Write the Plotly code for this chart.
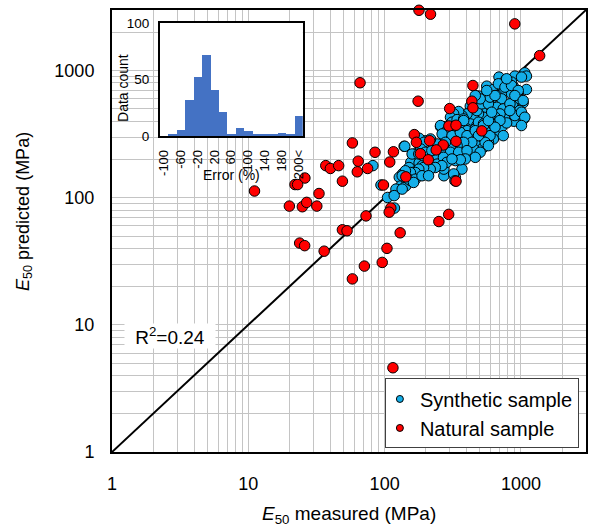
import plotly.graph_objects as go

# ---------------- data ----------------
syn_x = [690, 776, 902, 1067, 1097, 1009, 561, 628, 721, 877, 1097, 750, 664, 604, 721, 853, 953, 877, 1037, 488,
         502, 546, 425, 475, 531, 593, 664, 741, 830, 981, 1049, 887, 762, 702, 646, 593, 531, 488, 449, 402,
         369, 349, 321, 304, 257, 279, 312, 340, 380, 425, 475, 561, 628, 682, 610, 664, 561, 531, 475, 449,
         402, 369, 359, 321, 304, 287, 272, 380, 425, 475, 531, 628, 577, 462, 369, 369, 330, 272, 287, 321,
         340, 257, 223, 230, 200, 179, 161.5, 169, 155.5, 179, 205.6, 230, 264, 304, 272, 139, 151, 135, 160, 174,
         189, 128, 147, 131.5, 121, 143, 155.5, 189, 94, 105, 117.5, 118, 82, 139, 243, 217, 192, 174, 402, 449,
         502, 593, 721, 785, 902, 981, 853,
         683, 763, 853, 955, 902, 1038, 829, 1009, 1067, 1009, 701, 593, 645, 742, 546, 577, 425,
         402, 380, 462, 488, 531, 475, 516, 577, 593, 645, 561, 502, 462, 785,
         257, 287, 264, 312, 359, 402, 462, 531, 577, 610, 488, 436, 380, 340, 304, 279, 243, 217, 194, 184,
         211, 236, 272, 304, 349, 402, 462, 391, 330, 287, 243, 272, 321, 184,
         140.5, 159, 178, 199, 222, 270, 286, 263, 235, 216, 193, 178, 168, 154.5, 142, 134.5, 150, 168, 188, 210,
         163, 134.5, 328,
         359, 312]
syn_y = [890, 848, 906, 962, 906, 890, 755, 711, 755, 755, 711, 686, 638, 593, 600, 658, 658, 558, 558, 631,
         558, 600, 525, 500, 500, 532, 515, 500, 548, 486, 417, 400, 417, 457, 430, 443, 430, 457, 430, 457,
         443, 477, 457, 430, 363, 363, 393, 412, 417, 381, 370, 381, 370, 370, 337, 318, 327, 308, 299, 337,
         348, 337, 308, 327, 308, 331, 308, 281, 273, 257, 249, 290, 273, 214, 202, 168, 145, 149, 235, 228,
         242, 225, 221, 257, 281, 294, 218, 208, 190, 188, 179, 184, 190, 202, 214, 254, 173, 154, 158, 149,
         154, 145, 132, 124, 117, 124, 136, 179, 126, 100.5, 104, 83, 179, 145, 242, 204, 214, 228, 257, 242,
         228, 308, 359, 388, 443, 600, 813,
         788, 742, 764, 698, 637, 582, 485, 471, 430, 370, 405, 393, 359, 308, 273, 257, 290,
         337, 405, 348, 393, 381, 485, 548, 548, 619, 637, 698, 600, 637, 863,
         370, 337, 318, 308, 327, 308, 337, 370, 405, 471, 308, 273, 273, 257, 257, 273, 265, 290, 273, 242,
         228, 214, 221, 228, 228, 235, 208, 202, 196, 196, 184, 168, 154, 158,
         254, 221, 221, 228, 235, 208, 190, 179, 173, 168, 173, 168, 158, 158, 163, 149, 140, 140, 149, 149,
         132, 117, 136,
         199, 202]

nat_x = [178.6, 217, 901, 1371, 66, 176, 444, 436, 444, 300, 296, 334, 516, 165, 171, 214, 334, 269, 239, 183,
         209, 58, 85, 116, 64, 109, 37, 40, 46, 63, 75, 49, 143, 334, 26, 22, 23, 11.1, 33, 98,
         20, 24.9, 26.8, 31.8, 111, 108, 73, 295, 250, 49, 53, 130, 23.8, 25.9, 36, 104, 96, 71, 58, 115]
nat_y = [2985, 2780, 2333, 1312, 803, 575, 764, 575, 510, 503, 367, 372, 336, 314, 273, 281, 278, 260, 238, 222,
         199, 270, 228, 230, 194, 191, 179, 170, 179, 160, 170, 135, 146, 135, 143, 127, 127, 113, 108, 126,
         86, 85, 92, 86, 83, 77, 72, 74, 65, 56, 55, 53, 44, 42, 38, 40, 31, 29, 23, 4.6]

line_xy = [1, 3000]

hist_cats = ["-100", "-80", "-60", "-40", "-20", "0", "20", "40", "60", "80", "100",
             "120", "140", "160", "180", "200", "200<"]
hist_counts = [0, 1, 5, 32, 52, 72, 41, 21, 1, 7, 4, 1, 1, 2, 3, 1, 18]
hist_tick_labels = ["-100", "-60", "-20", "20", "60", "100", "140", "180", "200<"]

main_tick_vals = [1, 10, 100, 1000]
grid_vals = [m * d for d in (1, 10, 100, 1000) for m in range(1, 10) if m * d <= 3000]

# ---------------- style ----------------
FONT = "Liberation Sans, Arial, sans-serif"
GRID = "#C4C4C4"
BLUE = "#14AEE8"
RED = "#FF0000"

fig = go.Figure()

fig.add_trace(go.Scatter(x=line_xy, y=line_xy, mode="lines",
                         line=dict(color="black", width=2), showlegend=False, hoverinfo="skip"))
fig.add_trace(go.Scatter(x=syn_x, y=syn_y, mode="markers", showlegend=False, cliponaxis=False,
                         marker=dict(size=10.5, color=BLUE, line=dict(color="black", width=1))))
fig.add_trace(go.Scatter(x=nat_x, y=nat_y, mode="markers", showlegend=False, cliponaxis=False,
                         marker=dict(size=10.5, color=RED, line=dict(color="black", width=1))))
# legend-only entries with small markers
fig.add_trace(go.Scatter(x=[None], y=[None], mode="markers", name="Synthetic sample",
                         marker=dict(size=7, color=BLUE, line=dict(color="black", width=1))))
fig.add_trace(go.Scatter(x=[None], y=[None], mode="markers", name="Natural sample",
                         marker=dict(size=7, color=RED, line=dict(color="black", width=1))))

fig.add_trace(go.Bar(x=hist_cats, y=hist_counts, xaxis="x2", yaxis="y2",
                     marker=dict(color="#4472C4", line=dict(width=0)), showlegend=False))

grid_text = [str(v) if v in main_tick_vals else "" for v in grid_vals]

axis_common = dict(type="log", range=[0, 3.4771], showline=True, mirror=True,
                   linecolor="black", linewidth=2, showgrid=True, gridcolor=GRID, gridwidth=1,
                   zeroline=False, ticks="", tickvals=grid_vals, ticktext=grid_text,
                   tickfont=dict(family=FONT, size=18, color="black"))

fig.update_layout(
    width=590, height=526,
    margin=dict(l=112, r=1, t=10, b=74),
    paper_bgcolor="white", plot_bgcolor="white",
    font=dict(family=FONT, color="black"),
    bargap=0,
    xaxis=dict(**axis_common, ticklabelstandoff=14),
    yaxis=dict(**axis_common, ticklabelstandoff=12),
    xaxis2=dict(domain=[0.1006, 0.4025], anchor="y2", type="category",
                range=[-0.5, 16.5], showline=True, mirror=True, linecolor="black", linewidth=1.5,
                showgrid=False, ticks="", tickangle=-90, tickvals=hist_tick_labels,
                ticktext=hist_tick_labels, tickfont=dict(family=FONT, size=13),
                ticklabelstandoff=7),
    yaxis2=dict(domain=[0.715, 0.9706], anchor="x2", range=[0, 100],
                showline=True, mirror=True, linecolor="black", linewidth=1.5,
                showgrid=False, zeroline=False, ticks="", tickvals=[0, 50, 100],
                tickfont=dict(family=FONT, size=13.5), ticklabelstandoff=6),
    legend=dict(x=0.985, y=0.008, xanchor="right", yanchor="bottom",
                bgcolor="white", bordercolor="#404040", borderwidth=1, indentation=-6,
                font=dict(family=FONT, size=20, color="black"), itemwidth=30),
    annotations=[
        dict(text="R<sup>2</sup>=0.24", xref="paper", yref="paper", xanchor="center", yanchor="middle",
             x=0.1216, y=0.2624, showarrow=False, bgcolor="white",
             font=dict(family=FONT, size=19, color="black"), width=88, height=22),
        dict(text="<i>E</i><sub>50</sub> measured (MPa)", xref="paper", yref="paper",
             x=0.5, y=-0.142, xanchor="center", yanchor="middle", showarrow=False,
             font=dict(family=FONT, size=19, color="black")),
        dict(text="<i>E</i><sub>50</sub> predicted (MPa)", xref="paper", yref="paper", textangle=-90,
             x=-0.186, y=0.545, xanchor="center", yanchor="middle", showarrow=False,
             font=dict(family=FONT, size=18, color="black")),
        dict(text="Error (%)", xref="paper", yref="paper", x=0.2516, y=0.627,
             xanchor="center", yanchor="middle", showarrow=False,
             font=dict(family=FONT, size=14, color="black")),
        dict(text="Data count", xref="paper", yref="paper", textangle=-90, x=0.0231, y=0.8235,
             xanchor="center", yanchor="middle", showarrow=False,
             font=dict(family=FONT, size=14, color="black")),
    ],
)

fig.write_html("out.html")
